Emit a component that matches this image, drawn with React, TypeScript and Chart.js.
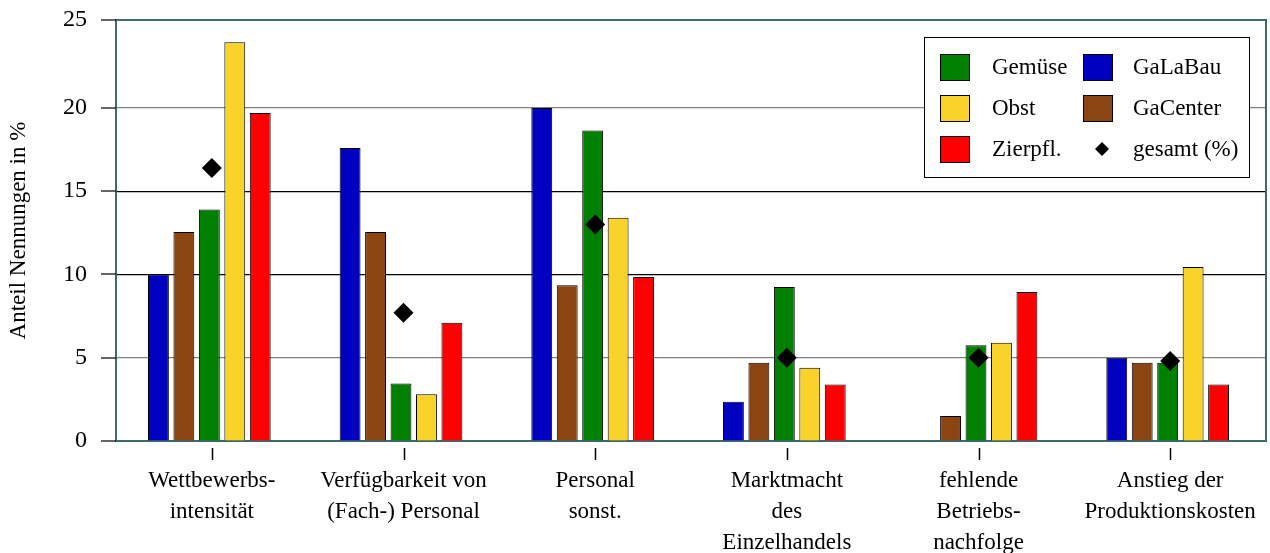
import React, { useEffect, useRef } from "react";
import { Chart, registerables } from "chart.js";

Chart.register(...registerables);

const categories: string[][] = [
  ["Wettbewerbs-", "intensität"],
  ["Verfügbarkeit von", "(Fach-) Personal"],
  ["Personal", "sonst."],
  ["Marktmacht", "des", "Einzelhandels"],
  ["fehlende", "Betriebs-", "nachfolge"],
  ["Anstieg der", "Produktionskosten"],
];

const galabau: (number | null)[] = [10.0, 17.6, 20.0, 2.35, null, 5.0];
const gacenter: number[] = [12.55, 12.55, 9.35, 4.7, 1.5, 4.7];
const gemuese: number[] = [13.9, 3.45, 18.65, 9.25, 5.75, 4.7];
const obst: number[] = [23.95, 2.8, 13.4, 4.4, 5.9, 10.45];
const zierpfl: number[] = [19.7, 7.1, 9.85, 3.4, 8.95, 3.4];
const gesamt: number[] = [16.4, 7.7, 13.0, 5.0, 5.0, 4.8];

// top of the axis frame sits slightly above the 25 mark in the original
const yMax = 25.28;
const yTicks: number[] = [0, 5, 10, 15, 20, yMax];

const FONT = "'Liberation Serif', 'Times New Roman', serif";
const TEAL = "#3f6a6a";

const COLORS = {
  galabau: "#0000c0",
  gacenter: "#8b4513",
  gemuese: "#008000",
  obst: "#f9d22a",
  zierpfl: "#ff0000",
};

const legendItems = [
  { label: "Gemüse", color: COLORS.gemuese, col: 0, row: 0 },
  { label: "Obst", color: COLORS.obst, col: 0, row: 1 },
  { label: "Zierpfl.", color: COLORS.zierpfl, col: 0, row: 2 },
  { label: "GaLaBau", color: COLORS.galabau, col: 1, row: 0 },
  { label: "GaCenter", color: COLORS.gacenter, col: 1, row: 1 },
  { label: "gesamt (%)", color: null, col: 1, row: 2 },
];

const framePlugin = {
  id: "frame",
  beforeDatasetDraw(chart: any, args: any) {
    if (args.meta.type === "bar") {
      chart.ctx.save();
      chart.ctx.translate(-2.5, 0);
    }
  },
  afterDatasetDraw(chart: any, args: any) {
    if (args.meta.type === "bar") chart.ctx.restore();
  },
  afterDatasetsDraw(chart: any) {
    const { ctx, chartArea } = chart;
    const { left, right, top, bottom } = chartArea;
    ctx.save();
    // top & right frame
    ctx.strokeStyle = TEAL;
    ctx.lineWidth = 2;
    ctx.beginPath();
    ctx.moveTo(left, top);
    ctx.lineTo(right, top);
    ctx.lineTo(right, bottom);
    ctx.stroke();
    // y tick marks
    const ys = chart.scales.y;
    ctx.strokeStyle = "#000";
    ctx.lineWidth = 1.2;
    for (const v of yTicks) {
      const y = Math.round(ys.getPixelForValue(v));
      ctx.beginPath();
      ctx.moveTo(left - 15, y);
      ctx.lineTo(left, y);
      ctx.stroke();
    }
    // category tick marks below the axis
    const xs = chart.scales.x;
    ctx.lineWidth = 1.5;
    for (let i = 0; i < categories.length; i++) {
      const x = Math.round(xs.getPixelForValue(i)) + 0.5;
      ctx.beginPath();
      ctx.moveTo(x, bottom + 7);
      ctx.lineTo(x, bottom + 19);
      ctx.stroke();
    }
    // legend
    const bx = right - 342;
    const by = top + 17;
    const bw = 325;
    const bh = 140;
    ctx.fillStyle = "#fff";
    ctx.fillRect(bx, by, bw, bh);
    ctx.strokeStyle = "#000";
    ctx.lineWidth = 1;
    ctx.strokeRect(bx + 0.5, by + 0.5, bw, bh);
    ctx.font = `23px ${FONT}`;
    ctx.textBaseline = "middle";
    ctx.textAlign = "left";
    for (const it of legendItems) {
      const cy = by + 30 + it.row * 41;
      const sx = bx + 16 + it.col * 143;
      const tx = bx + 68 + it.col * 141;
      if (it.color) {
        ctx.fillStyle = it.color;
        ctx.fillRect(sx, cy - 13, 30, 27);
        ctx.strokeStyle = "#000";
        ctx.lineWidth = 1;
        ctx.strokeRect(sx + 0.5, cy - 13 + 0.5, 29, 26);
      } else {
        const dx = sx + 19;
        ctx.fillStyle = "#000";
        ctx.beginPath();
        ctx.moveTo(dx, cy - 7);
        ctx.lineTo(dx + 7, cy);
        ctx.lineTo(dx, cy + 7);
        ctx.lineTo(dx - 7, cy);
        ctx.closePath();
        ctx.fill();
      }
      ctx.fillStyle = "#000";
      ctx.fillText(it.label, tx, cy + 1);
    }
    ctx.restore();
  },
};

export default function App() {
  const ref = useRef<HTMLCanvasElement | null>(null);

  useEffect(() => {
    if (!ref.current) return;
    const barDs = (label: string, data: (number | null)[], color: string) => ({
      type: "bar" as const,
      label,
      data,
      backgroundColor: color,
      borderColor: "#000",
      borderWidth: 1,
      order: 1,
      categoryPercentage: 0.664,
      barPercentage: 0.82,
    });
    const chart = new Chart(ref.current, {
      type: "bar",
      data: {
        labels: categories,
        datasets: [
          barDs("GaLaBau", galabau, COLORS.galabau),
          barDs("GaCenter", gacenter, COLORS.gacenter),
          barDs("Gemüse", gemuese, COLORS.gemuese),
          barDs("Obst", obst, COLORS.obst),
          barDs("Zierpfl.", zierpfl, COLORS.zierpfl),
          {
            type: "line" as const,
            label: "gesamt (%)",
            data: gesamt,
            showLine: false,
            pointStyle: "rectRot",
            pointRadius: 10,
            pointBackgroundColor: "#000",
            pointBorderColor: "#000",
            pointBorderWidth: 0,
            order: 0,
          } as any,
        ],
      },
      options: {
        responsive: false,
        animation: false,
        devicePixelRatio: 1,
        layout: { autoPadding: false, padding: { top: 20, right: 4, left: 0, bottom: 0 } },
        plugins: {
          legend: { display: false },
          tooltip: { enabled: false },
        },
        scales: {
          x: {
            offset: true,
            grid: {
              display: true,
              drawOnChartArea: false,
              drawTicks: true,
              tickLength: 20,
              tickColor: "rgba(0,0,0,0)",
              color: "rgba(0,0,0,0)",
            },
            border: { display: true, color: TEAL, width: 2 },
            ticks: {
              color: "#000",
              padding: 4,
              font: { family: FONT, size: 23, lineHeight: 1.35 },
              maxRotation: 0,
              autoSkip: false,
            },
            afterFit(scale: any) {
              scale.height = 112;
              scale.paddingLeft = 0;
              scale.paddingRight = 0;
            },
          },
          y: {
            min: 0,
            max: yMax,
            afterBuildTicks(scale: any) {
              scale.ticks = yTicks.map((v) => ({ value: v }));
            },
            grid: {
              color: (c: any) => {
                const v = c.tick?.value;
                if (v === 5 || v === 20) return "#808080";
                if (v === 0 || v === yMax) return "rgba(0,0,0,0)";
                return "#000";
              },
              lineWidth: 1.2,
              tickLength: 29,
              tickColor: "rgba(0,0,0,0)",
            },
            border: { display: true, color: TEAL, width: 2 },
            ticks: {
              color: "#000",
              padding: 0,
              font: { family: FONT, size: 24 },
              callback: (v: any) => String(Math.round(Number(v))),
            },
            title: {
              display: true,
              text: "Anteil Nennungen in %",
              color: "#000",
              font: { family: FONT, size: 23 },
              padding: { top: 5, bottom: 0 },
            },
            afterFit(scale: any) {
              scale.width = 116;
              scale.paddingTop = 0;
              scale.paddingBottom = 0;
            },
          },
        },
      },
      plugins: [framePlugin],
    });
    return () => chart.destroy();
  }, []);

  return (
    <div style={{ position: "absolute", left: 0, top: 0, width: 1270, height: 553, background: "#fff" }}>
      <canvas ref={ref} width={1270} height={553} style={{ display: "block" }} />
    </div>
  );
}
